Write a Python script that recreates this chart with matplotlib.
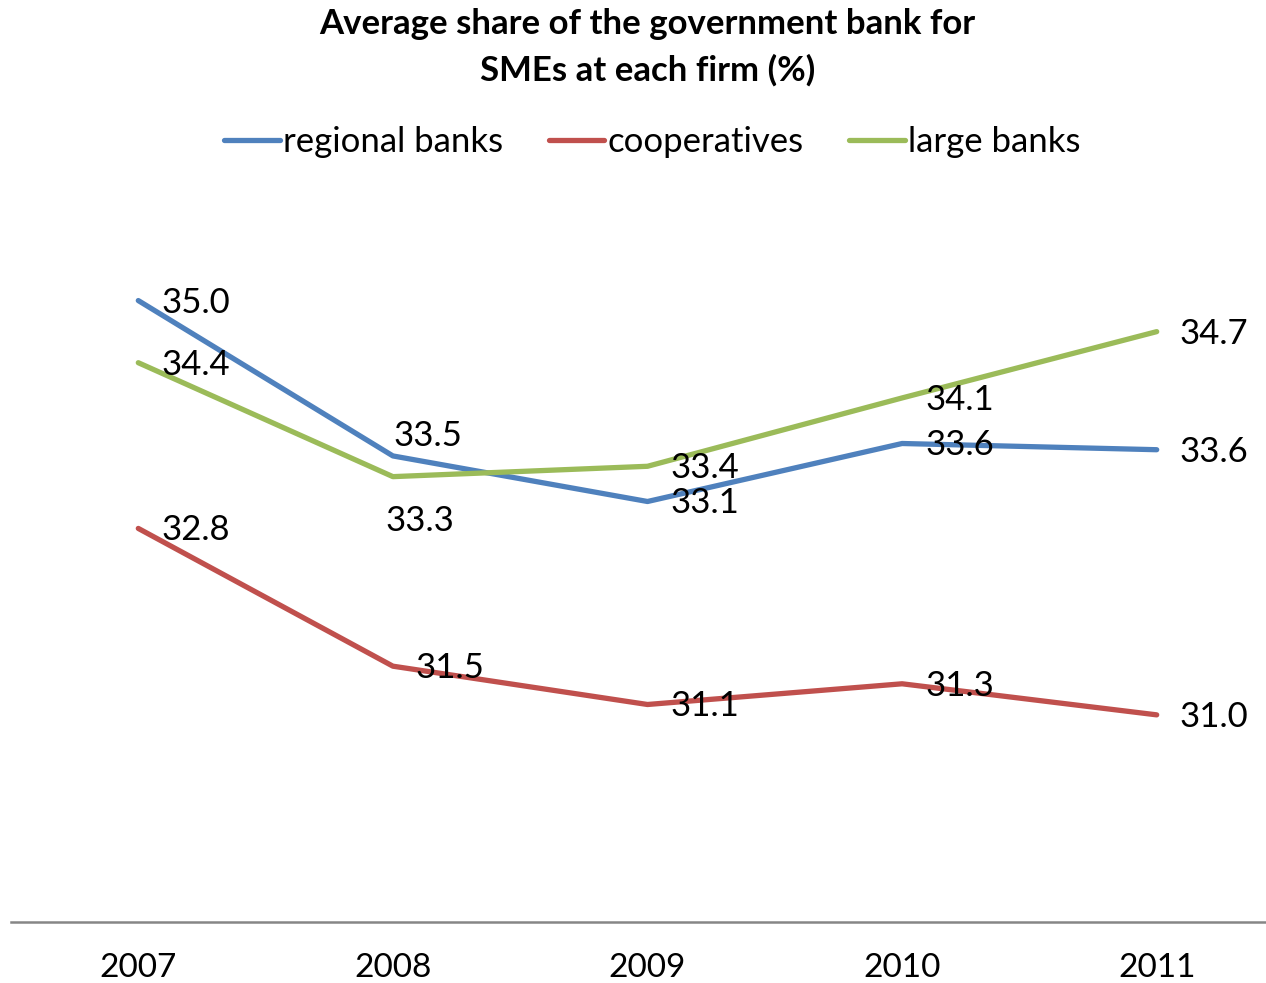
import matplotlib
matplotlib.use("Agg")
import matplotlib.pyplot as plt

plt.rcParams['font.family'] = ['Lato', 'DejaVu Sans']

years = ['2007', '2008', '2009', '2010', '2011']
regional_banks = [35.0, 33.5, 33.06, 33.62, 33.56]
cooperatives = [32.8, 31.47, 31.1, 31.3, 31.0]
large_banks = [34.4, 33.3, 33.4, 34.06, 34.7]

series = [
    ('regional banks', regional_banks, '#4F81BD'),
    ('cooperatives', cooperatives, '#C0504D'),
    ('large banks', large_banks, '#9BBB59'),
]

W, H = 1266, 983
fig = plt.figure(figsize=(W / 100, H / 100), dpi=100)

# plot area in pixels: left, right, top, bottom (runs past the right edge)
left, right, top, bottom = 11, 1284, 197, 922
ax = fig.add_axes([left / W, 1 - bottom / H, (right - left) / W, (bottom - top) / H])

xs = list(range(len(years)))
for name, vals, color in series:
    ax.plot(xs, vals, color=color, lw=3.8, label=name, solid_capstyle='round',
            solid_joinstyle='round', zorder=2)

# data labels sit to the right of each point, two are nudged by hand
offsets = {('regional banks', 1): (1, 20), ('large banks', 1): (-7, -44)}
for name, vals, color in series:
    for i, v in enumerate(vals):
        dx, dy = offsets.get((name, i), (23, -2))
        ax.annotate(f'{v:.1f}', (xs[i], v), xytext=(dx, dy), textcoords='offset pixels',
                    ha='left', va='center', fontsize=25, color='black', zorder=3)

ax.set_xlim(-0.5, len(years) - 0.5)
ax.set_ylim(29, 36)
ax.set_yticks([])
ax.set_xticks(xs)
ax.set_xticklabels(years, fontsize=24)
ax.tick_params(axis='x', length=0, pad=22)
for s in ['top', 'right', 'left']:
    ax.spines[s].set_visible(False)
ax.spines['bottom'].set_color('#868686')
ax.spines['bottom'].set_linewidth(1.8)

cx = (left + right) / 2 / W
fig.text(cx, 1 - 24 / H, 'Average share of the government bank for', ha='center', va='center',
         fontsize=25, fontweight='bold')
fig.text(cx, 1 - 70 / H, 'SMEs at each firm (%)', ha='center', va='center',
         fontsize=25, fontweight='bold')

fig.legend(loc='center', bbox_to_anchor=((cx * W + 5) / W, 1 - 142 / H), ncol=3, frameon=False,
           fontsize=25, handlelength=1.6, handletextpad=0.1, columnspacing=1.3)

fig.savefig('out.png', dpi=100)
